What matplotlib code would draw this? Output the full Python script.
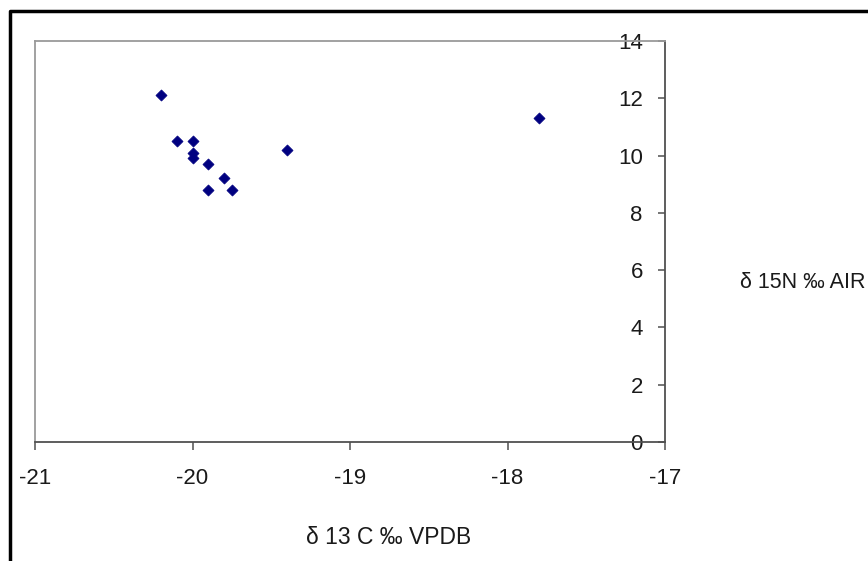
import matplotlib
matplotlib.use("Agg")
import matplotlib.pyplot as plt
from matplotlib.lines import Line2D

# Data
d13C = [-20.2, -20.1, -20.0, -20.0, -20.0, -19.9, -19.8, -19.9, -19.75, -19.4, -17.8]
d15N = [12.1, 10.5, 10.5, 10.1, 9.9, 9.7, 9.2, 8.8, 8.8, 10.2, 11.3]
x_ticks = [-21, -20, -19, -18, -17]
y_ticks = [0, 2, 4, 6, 8, 10, 12, 14]
x_label = "δ 13 C ‰ VPDB"
y_label = "δ 15N ‰ AIR"

W, H = 868, 561
DPI = 100
plt.rcParams['font.family'] = ['Liberation Sans', 'DejaVu Sans']

fig = plt.figure(figsize=(W / DPI, H / DPI), dpi=DPI)
fig.patch.set_facecolor('white')

# axes placement in pixels (from top-left)
L, R, T, B = 35, 665, 41, 442
ax = fig.add_axes([L / W, (H - B) / H, (R - L) / W, (B - T) / H])

ax.scatter(d13C, d15N, marker='D', s=32, color='#000080', edgecolors='#000080',
           linewidths=0.5, zorder=3, clip_on=False)

ax.set_xlim(-21, -17)
ax.set_ylim(0, 14)
ax.set_xticks(x_ticks)
ax.set_yticks(y_ticks)
ax.set_xticklabels([str(v) for v in x_ticks])
ax.set_yticklabels([str(v) for v in y_ticks])

for side in ['top', 'left']:
    ax.spines[side].set_color('#9a9a9a')
    ax.spines[side].set_linewidth(1.3)
for side in ['bottom', 'right']:
    ax.spines[side].set_color('#505050')
    ax.spines[side].set_linewidth(1.3)

ax.tick_params(axis='x', direction='out', length=6, width=1.1, color='#505050',
               labelsize=16, pad=13, labelcolor='#1a1a1a')
ax.tick_params(axis='y', left=False, right=True, labelleft=False, labelright=True,
               direction='in', length=5, width=1.1, color='#505050',
               labelsize=16, pad=-16, labelcolor='#1a1a1a')
for lbl in ax.get_yticklabels():
    lbl.set_horizontalalignment('right')

# axis titles
fig.text(389 / W, 1 - 537 / H, x_label, ha='center', va='center', fontsize=16.5,
         color='#1a1a1a')
fig.text(740 / W, 1 - 282 / H, y_label, ha='left', va='center', fontsize=15.5,
         color='#1a1a1a')

# outer chart frame (only left and top edges visible in the crop)
fig.add_artist(Line2D([9.5 / W, 9.5 / W, 1.02], [-0.02, 1 - 10.5 / H, 1 - 10.5 / H],
                      transform=fig.transFigure, color='black', linewidth=2.5))

fig.savefig('out.png', dpi=DPI, facecolor='white')
